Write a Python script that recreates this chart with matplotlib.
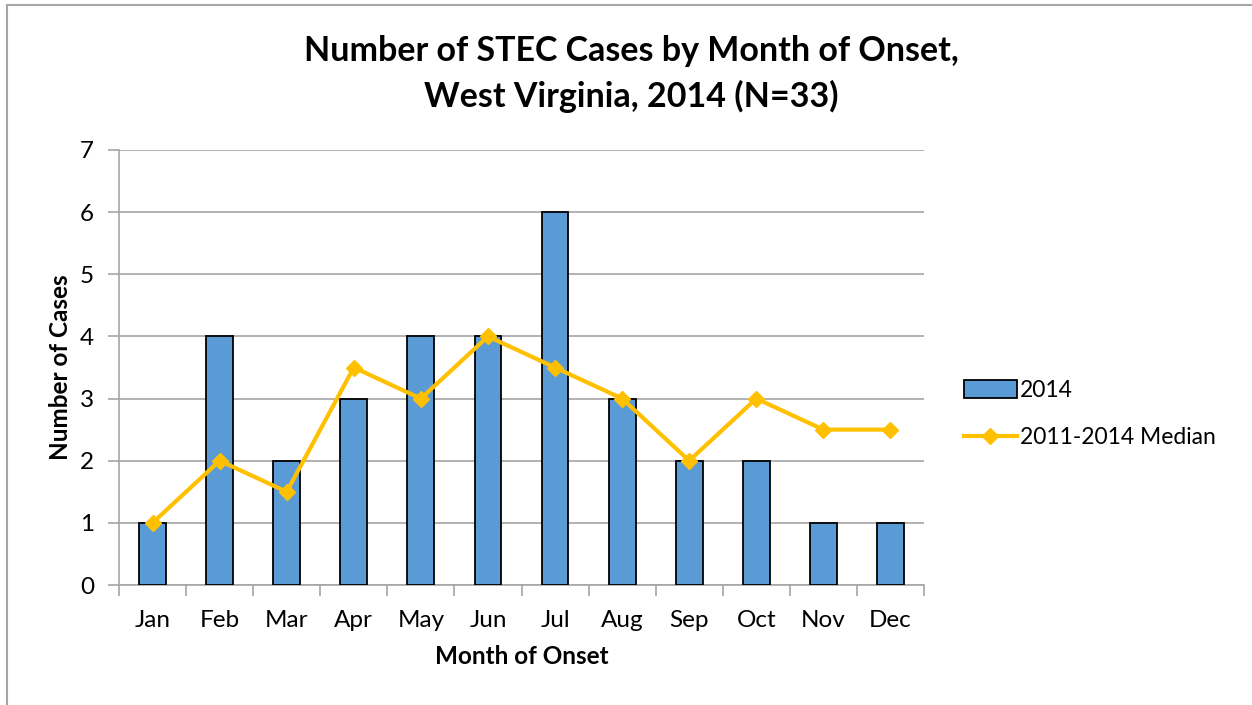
import matplotlib
matplotlib.use("Agg")
import matplotlib.pyplot as plt
import numpy as np
from matplotlib.lines import Line2D

months = ["Jan", "Feb", "Mar", "Apr", "May", "Jun", "Jul", "Aug", "Sep", "Oct", "Nov", "Dec"]
cases_2014 = [1, 4, 2, 3, 4, 4, 6, 3, 2, 2, 1, 1]
median_2011_2014 = [1, 2, 1.5, 3.5, 3, 4, 3.5, 3, 2, 3, 2.5, 2.5]

FONT = "Lato"
plt.rcParams["font.family"] = [FONT, "DejaVu Sans"]

W, H = 1252, 705
fig = plt.figure(figsize=(W / 100, H / 100), dpi=100)

# outer frame (gray border, left and top)
fig.add_artist(Line2D([7 / W, 7 / W], [0, 1 - 5 / H], color="#A6A6A6", lw=1.5, transform=fig.transFigure))
fig.add_artist(Line2D([7 / W, 1], [1 - 5 / H, 1 - 5 / H], color="#A6A6A6", lw=1.5, transform=fig.transFigure))

ax = fig.add_axes([119 / W, 1 - 585 / H, (924 - 119) / W, (585 - 150) / H])
x = np.arange(len(months))
bar_color = "#5B9BD5"
line_color = "#FFC000"
bars = ax.bar(x, cases_2014, width=0.4, color=bar_color, edgecolor="black", linewidth=1.3, zorder=3, label="2014")
line, = ax.plot(x, median_2011_2014, color=line_color, lw=3, marker="D", markersize=8, zorder=4,
                label="2011-2014 Median")

ax.set_xlim(-0.5, 11.5)
ax.set_ylim(0, 7)
ax.set_yticks(range(0, 8))
ax.yaxis.grid(True, color="#A6A6A6", lw=1.2, zorder=0)
ax.set_axisbelow(True)
for s in ["top", "right"]:
    ax.spines[s].set_visible(False)
for s in ["left", "bottom"]:
    ax.spines[s].set_color("#A6A6A6")
    ax.spines[s].set_linewidth(1.2)

ax.set_xticks(x)
ax.set_xticklabels(months, fontsize=17.5)
ax.tick_params(axis="x", length=0, pad=18)
ax.set_xticks(np.arange(-0.5, 12, 1), minor=True)
ax.tick_params(axis="x", which="minor", length=8, color="#A6A6A6", width=1.2)
ax.tick_params(axis="y", length=8, color="#A6A6A6", width=1.2, labelsize=17.5, pad=10)

ax.set_xlabel("Month of Onset", fontsize=17.5, fontweight="bold", labelpad=10)
ax.set_ylabel("Number of Cases", fontsize=17.5, fontweight="bold", labelpad=6)

fig.text(631 / W, 1 - 74 / H, "Number of STEC Cases by Month of Onset,\nWest Virginia, 2014 (N=33)",
         ha="center", va="center", fontsize=24.5, fontweight="bold", linespacing=1.45)

fig.legend([bars, line], ["2014", "2011-2014 Median"], loc="center left",
           bbox_to_anchor=(964 / W, 1 - 414 / H), frameon=False, borderaxespad=0, borderpad=0,
           fontsize=16.5, handlelength=2.3, handleheight=0.8, handletextpad=0.15, labelspacing=1.15)

fig.savefig("out.png", dpi=100)
